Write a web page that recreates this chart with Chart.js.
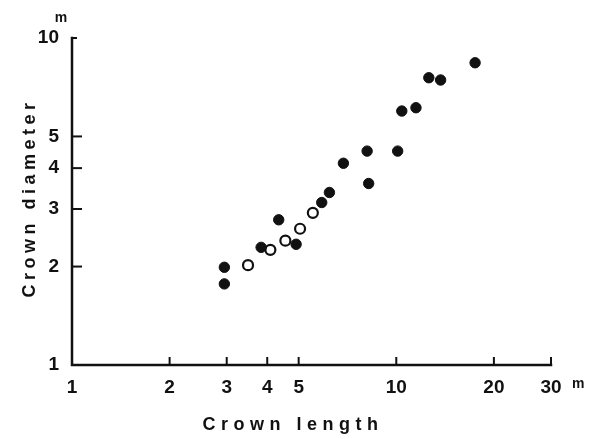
<!DOCTYPE html>
<html>
<head>
<meta charset="utf-8">
<script src="https://cdn.jsdelivr.net/npm/chart.js@4"></script>
<style>
  html, body { margin: 0; padding: 0; background: #fff; }
  #wrap { width: 597px; height: 439px; }
</style>
</head>
<body>
<div id="wrap"><canvas id="c" width="597" height="439"></canvas></div>
<script>
// crown length (m) vs crown diameter (m), log-log
const filledX = [2.95, 2.95, 3.83, 4.34, 4.91, 5.89, 6.22, 6.87, 8.13, 8.22, 10.1, 10.4, 11.5, 12.6, 13.7, 17.5];
const filledY = [1.99, 1.77, 2.29, 2.78, 2.34, 3.14, 3.37, 4.14, 4.51, 3.59, 4.51, 5.98, 6.12, 7.56, 7.44, 8.40];
const openX   = [3.49, 4.09, 4.55, 5.05, 5.53];
const openY   = [2.02, 2.25, 2.40, 2.61, 2.92];

const xTicks = [1, 2, 3, 4, 5, 10, 20, 30];
const yTicks = [1, 2, 3, 4, 5, 10];

const INK = '#111';
const FONT = '"Liberation Sans", Arial, sans-serif';

const toPts = (xs, ys) => xs.map((x, i) => ({ x, y: ys[i] }));

// axis lines, inward ticks, titles and unit marks
const axisDecor = {
  id: 'axisDecor',
  afterDraw(chart) {
    const { ctx, chartArea: a, scales: { x, y } } = chart;
    ctx.save();
    ctx.strokeStyle = INK;
    ctx.lineWidth = 2.5;
    ctx.lineCap = 'square';
    ctx.beginPath();
    ctx.moveTo(a.left, a.top);
    ctx.lineTo(a.left, a.bottom);
    ctx.lineTo(a.right, a.bottom);
    ctx.stroke();

    ctx.lineWidth = 2;
    ctx.lineCap = 'butt';
    xTicks.slice(1).forEach(v => {
      const px = x.getPixelForValue(v);
      ctx.beginPath(); ctx.moveTo(px, a.bottom); ctx.lineTo(px, a.bottom - 8); ctx.stroke();
    });
    yTicks.slice(1).forEach(v => {
      const py = y.getPixelForValue(v);
      const len = v === 10 ? 5 : 10;
      ctx.beginPath(); ctx.moveTo(a.left, py); ctx.lineTo(a.left + len, py); ctx.stroke();
    });

    ctx.fillStyle = INK;
    ctx.font = 'bold 18px ' + FONT;
    ctx.textAlign = 'center';
    ctx.textBaseline = 'alphabetic';
    ctx.letterSpacing = '5.5px';
    ctx.fillText('Crown length', 293, 430);

    ctx.save();
    ctx.translate(35, 200);
    ctx.rotate(-Math.PI / 2);
    ctx.letterSpacing = '4.5px';
    ctx.fillText('Crown diameter', 2, 0);
    ctx.restore();

    ctx.letterSpacing = '0px';
    ctx.font = 'bold 14px ' + FONT;
    ctx.fillText('m', 61, 22);
    ctx.textAlign = 'left';
    ctx.fillText('m', 572, 388);
    ctx.restore();
  }
};

new Chart(document.getElementById('c'), {
  type: 'scatter',
  data: {
    datasets: [
      { label: 'filled', data: toPts(filledX, filledY), pointRadius: 5.2, pointHoverRadius: 5.2,
        backgroundColor: INK, borderColor: INK, borderWidth: 1 },
      { label: 'open', data: toPts(openX, openY), pointRadius: 5, pointHoverRadius: 5,
        backgroundColor: '#fff', borderColor: INK, borderWidth: 2.2 },
    ]
  },
  options: {
    responsive: false,
    animation: false,
    devicePixelRatio: 1,
    layout: { padding: { top: 38, right: 46, left: 0, bottom: 0 } },
    plugins: { legend: { display: false }, tooltip: { enabled: false } },
    scales: {
      x: {
        type: 'logarithmic', min: 1, max: 30, position: 'bottom',
        afterBuildTicks: s => { s.ticks = xTicks.map(v => ({ value: v })); },
        afterFit: s => { s.height = 74; },
        grid: { display: false, drawTicks: false },
        border: { display: false },
        ticks: { autoSkip: false, maxRotation: 0, padding: 11, color: INK,
                 font: { family: FONT, size: 19, weight: 'bold' }, callback: v => String(v) }
      },
      y: {
        type: 'logarithmic', min: 1, max: 10, position: 'left',
        afterBuildTicks: s => { s.ticks = yTicks.map(v => ({ value: v })); },
        afterFit: s => { s.width = 72; },
        grid: { display: false, drawTicks: false },
        border: { display: false },
        ticks: { autoSkip: false, padding: 13, color: INK,
                 font: { family: FONT, size: 19, weight: 'bold' }, callback: v => String(v) }
      }
    }
  },
  plugins: [axisDecor]
});
</script>
</body>
</html>
